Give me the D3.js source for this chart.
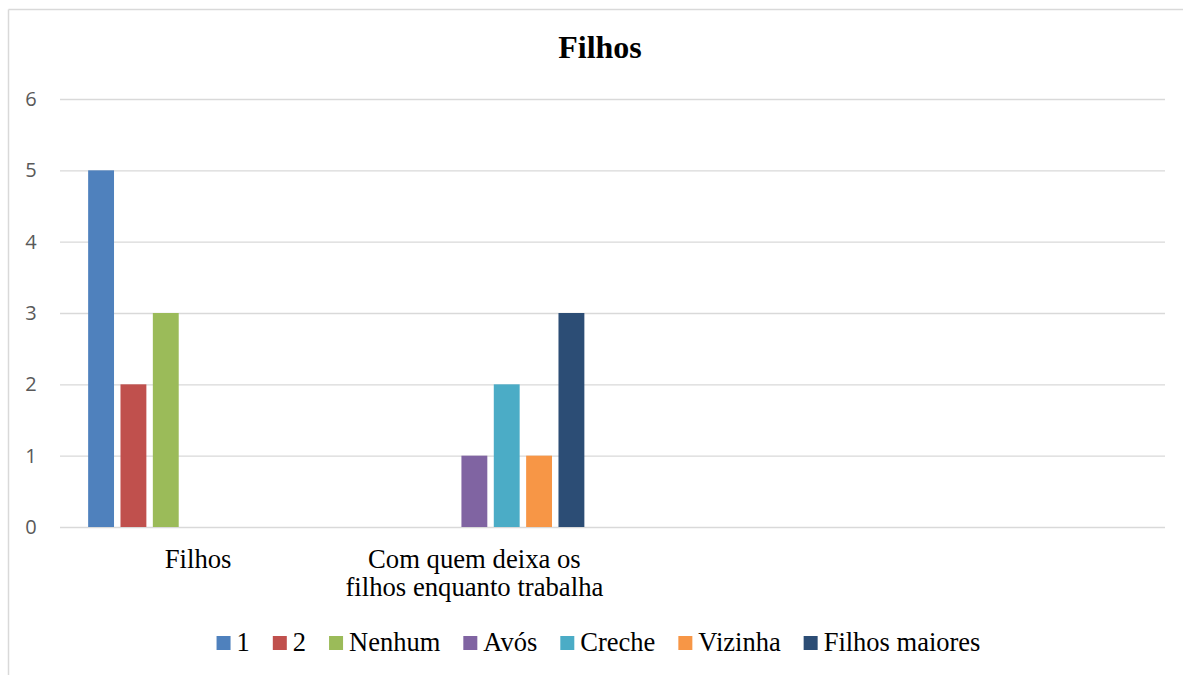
<!DOCTYPE html>
<html>
<head>
<meta charset="utf-8">
<script src="https://cdn.jsdelivr.net/npm/d3@7"></script>
<style>
  body { margin: 0; background: #fff; }
  svg { display: block; }
</style>
</head>
<body>
<div class="chart"></div>
<script>
// chart data
const title = "Filhos";
const categories = ["Filhos", "Com quem deixa os|filhos enquanto trabalha", "", ""];
const seriesNames = ["1", "2", "Nenhum", "Avós", "Creche", "Vizinha", "Filhos maiores"];
const seriesColors = ["#4F81BD", "#C0504D", "#9BBB59", "#8064A2", "#4BACC6", "#F79646", "#2C4D75"];
// one array per series, one value per category (null = no bar)
const s1 = [5, null, null, null];
const s2 = [2, null, null, null];
const sNenhum = [3, null, null, null];
const sAvos = [null, 1, null, null];
const sCreche = [null, 2, null, null];
const sVizinha = [null, 1, null, null];
const sFilhosMaiores = [null, 3, null, null];
const yTicks = [0, 1, 2, 3, 4, 5, 6];

const seriesValues = [s1, s2, sNenhum, sAvos, sCreche, sVizinha, sFilhosMaiores];

const W = 1183, H = 675;
const plot = { left: 60, right: 1165, top: 99, bottom: 527 };
const serif = "'Liberation Serif', 'Times New Roman', serif";

const svg = d3.select("div.chart").append("svg")
    .attr("width", W)
    .attr("height", H);

// chart frame (only top and left edges visible in the crop)
svg.append("line").attr("x1", 8.5).attr("x2", W).attr("y1", 9.5).attr("y2", 9.5)
    .attr("stroke", "#d9d9d9").attr("stroke-width", 1.5);
svg.append("line").attr("x1", 8.5).attr("x2", 8.5).attr("y1", 9.5).attr("y2", H)
    .attr("stroke", "#d9d9d9").attr("stroke-width", 1.5);

// scales
const x0 = d3.scaleBand()
    .domain(d3.range(categories.length))
    .range([plot.left, plot.right]);

const x1 = d3.scaleBand()
    .domain(d3.range(seriesNames.length))
    .range([0, x0.bandwidth()])
    .paddingInner(0.2)
    .paddingOuter(0.87);

const y = d3.scaleLinear()
    .domain([0, 6])
    .range([plot.bottom, plot.top]);

// gridlines + y labels
const yAxis = svg.append("g")
    .attr("transform", `translate(${plot.left},0)`)
    .call(d3.axisLeft(y)
        .tickValues(yTicks)
        .tickFormat(d3.format("d"))
        .tickSize(-(plot.right - plot.left)));

yAxis.select(".domain").remove();
yAxis.selectAll(".tick line").attr("stroke", "#d9d9d9").attr("stroke-width", 1.3);
yAxis.selectAll(".tick text")
    .attr("fill", "#595959")
    .style("font-family", "'Open Sans', sans-serif")
    .style("font-size", "20px")
    .attr("text-anchor", "middle")
    .attr("x", -29);

// bars
const groups = svg.append("g").selectAll("g")
    .data(seriesValues)
    .join("g")
    .attr("fill", (d, i) => seriesColors[i]);

groups.each(function (vals, si) {
    d3.select(this).selectAll("rect")
        .data(vals.map((v, ci) => ({ v, ci })).filter(d => d.v != null))
        .join("rect")
        .attr("x", d => x0(d.ci) + x1(si))
        .attr("width", x1.bandwidth())
        .attr("y", d => y(d.v))
        .attr("height", d => y(0) - y(d.v));
});

// category labels
const catLabels = svg.append("g").selectAll("text")
    .data(categories)
    .join("text")
    .attr("x", (d, i) => x0(i) + x0.bandwidth() / 2)
    .attr("y", 568)
    .attr("text-anchor", "middle")
    .style("font-family", serif)
    .style("font-size", "26.7px")
    .attr("fill", "#000");

catLabels.selectAll("tspan")
    .data(d => d ? d.split("|") : [])
    .join("tspan")
    .attr("x", function () { return this.parentNode.getAttribute("x"); })
    .attr("dy", (d, i) => i === 0 ? 0 : 28)
    .text(d => d);

// title
svg.append("text")
    .attr("x", 600)
    .attr("y", 58)
    .attr("text-anchor", "middle")
    .style("font-family", serif)
    .style("font-weight", "bold")
    .style("font-size", "32px")
    .text(title);

// legend
const legend = svg.append("g");
const sw = 14, gapText = 6, gapItem = 23;
let cx = 0;
seriesNames.forEach((name, i) => {
    const item = legend.append("g").attr("transform", `translate(${cx},0)`);
    item.append("rect").attr("x", 0).attr("y", 636).attr("width", sw).attr("height", sw)
        .attr("fill", seriesColors[i]);
    const t = item.append("text")
        .attr("x", sw + gapText)
        .attr("y", 651)
        .style("font-family", serif)
        .style("font-size", "26.5px")
        .attr("fill", "#000")
        .text(name);
    cx += sw + gapText + t.node().getComputedTextLength() + gapItem;
});
const legendW = cx - gapItem;
legend.attr("transform", `translate(${598.5 - legendW / 2},0)`);
</script>
</body>
</html>
